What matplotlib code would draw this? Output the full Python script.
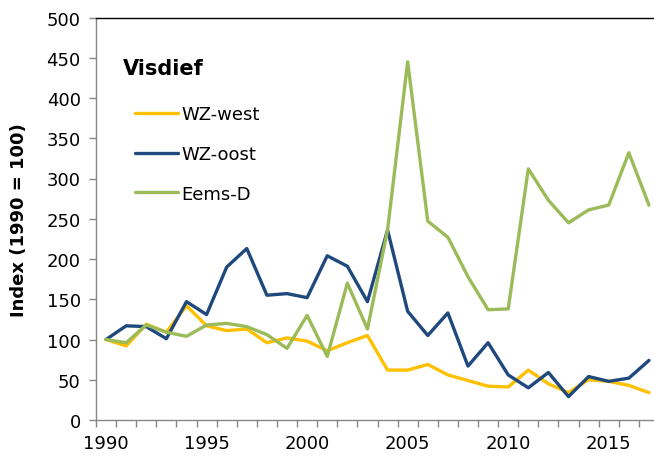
import numpy as np
import matplotlib
matplotlib.use('Agg')
import matplotlib.pyplot as plt
from matplotlib.ticker import FixedLocator

# ── Data (index, 1990 = 100) ──────────────────────────────
years = list(range(1990, 2018))
wz_west = [100, 92, 119, 109, 142, 117, 111, 113, 96, 102, 98, 86, 96, 105,
           62, 62, 69, 56, 49, 42, 41, 62, 45, 34, 50, 48, 43, 34]
wz_oost = [100, 117, 116, 101, 147, 131, 190, 213, 155, 157, 152, 204, 191, 147,
           236, 135, 105, 133, 67, 96, 56, 40, 59, 29, 54, 48, 52, 74]
eems_d = [100, 96, 118, 109, 104, 118, 120, 116, 106, 89, 130, 79, 170, 113,
          236, 445, 247, 227, 178, 137, 138, 312, 273, 245, 261, 267, 332, 267]

series = [('WZ-west', wz_west, '#FFC000'),
          ('WZ-oost', wz_oost, '#1F497D'),
          ('Eems-D', eems_d, '#9BBB59')]

y_ticks = list(range(0, 501, 50))
x_labels = [1990, 1995, 2000, 2005, 2010, 2015]

# ── Figure ────────────────────────────────────────────────
plt.rcParams['font.family'] = 'DejaVu Sans'
fig = plt.figure(figsize=(6.54, 4.64), dpi=100)
W, H = 654, 464
left, right, top, bottom = 96, 659, 18.5, 421
ax = fig.add_axes([left / W, 1 - bottom / H, (right - left) / W, (bottom - top) / H])

for name, vals, col in series:
    ax.plot(years, vals, color=col, linewidth=2.4, label=name,
            solid_joinstyle='round', solid_capstyle='round')

ax.set_xlim(1989.5, 2017.5)
ax.set_ylim(0, 500)

grey = '#868686'
ax.set_yticks(y_ticks)
ax.tick_params(axis='y', direction='out', length=5, width=1, color=grey,
               labelsize=13, pad=6)
ax.set_xticks(x_labels)
ax.xaxis.set_minor_locator(FixedLocator(np.arange(1989.5, 2018, 1)))
ax.tick_params(axis='x', which='major', length=0, labelsize=13, pad=10)
ax.tick_params(axis='x', which='minor', direction='out', length=5,
               width=1, color=grey)

for s in ('left', 'bottom'):
    ax.spines[s].set_color(grey)
    ax.spines[s].set_linewidth(1)
ax.spines['top'].set_color('black')
ax.spines['top'].set_linewidth(1)
ax.spines['right'].set_visible(False)

ax.set_ylabel('Index (1990 = 100)', fontsize=13, fontweight='bold', labelpad=13)

# ── Legend ────────────────────────────────────────────────
ax.text(0.047, 0.875, 'Visdief', transform=ax.transAxes, fontsize=15,
        fontweight='bold', va='center', ha='left')
ax.legend(loc='upper left', bbox_to_anchor=(0.056, 0.80), frameon=False,
          fontsize=13, handlelength=2.4, handletextpad=0.2,
          labelspacing=1.2, borderaxespad=0)

fig.savefig('out.png', dpi=100)
